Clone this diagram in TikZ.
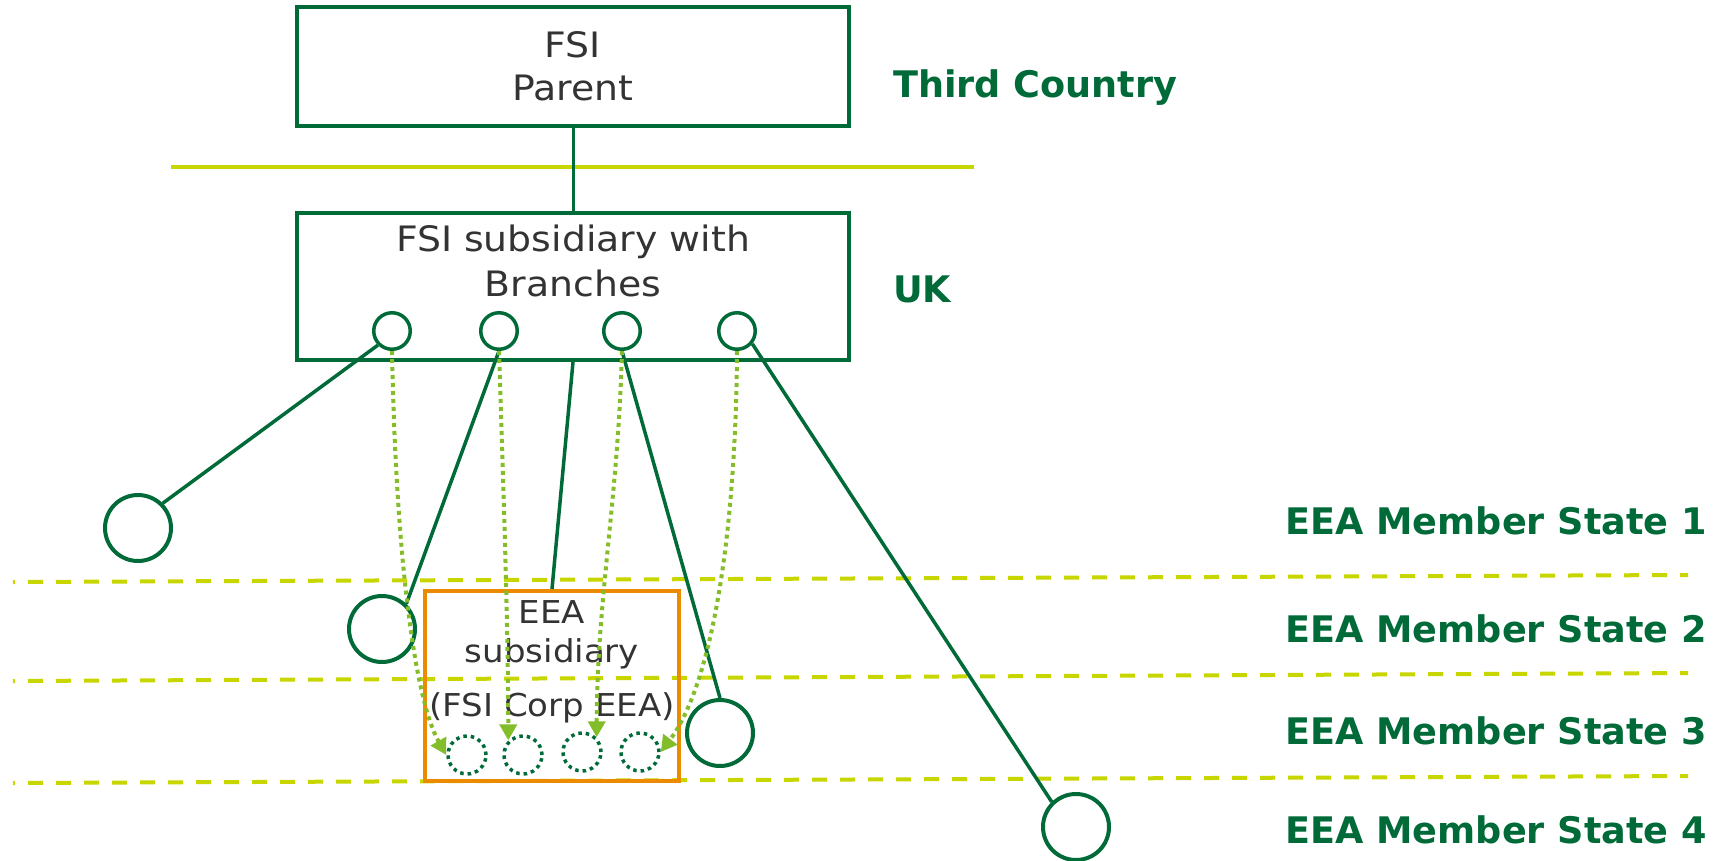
\documentclass[tikz,border=0pt]{standalone}
\usepackage{fontspec}
\setmainfont{DejaVu Sans}
\newfontfamily\boxfont[FakeStretch=1.08]{DejaVu Sans}
\usetikzlibrary{arrows.meta}
\definecolor{fsigreen}{RGB}{0,106,56}
\definecolor{fsilime}{RGB}{200,214,0}
\definecolor{fsileaf}{RGB}{132,189,42}
\definecolor{fsiorange}{RGB}{237,139,0}
\definecolor{fsitext}{RGB}{51,51,51}

\begin{document}
\begin{tikzpicture}[
		x=1pt, y=-1pt,
		entity/.style={draw=fsigreen, line width=4pt, rectangle, minimum width=552pt, inner sep=0},
		branch/.style={circle, draw=fsigreen, line width=3.5pt, minimum size=36.5pt, inner sep=0},
		office/.style={circle, draw=fsigreen, line width=4pt, minimum size=66pt, inner sep=0},
		passport/.style={circle, draw=fsigreen, line width=3.5pt, dash pattern=on 3.5pt off 4pt, minimum size=38pt, inner sep=0},
		link/.style={draw=fsigreen, line width=3.5pt},
		border/.style={draw=fsilime, line width=4pt, dash pattern=on 15pt off 13pt, dash phase=13pt},
		move/.style={draw=fsileaf, line width=4pt, dash pattern=on 4pt off 4pt, -{Triangle[length=16pt,width=17pt]}},
		region/.style={text=fsigreen, font=\fontsize{36.6}{40}\selectfont\bfseries, inner sep=0},
		boxtext/.style={text=fsitext, align=center, inner sep=0},
	]
	\useasboundingbox (0,0) rectangle (1724,860);

	% jurisdictions
	\draw[draw=fsilime, line width=4pt] (171,167) -- (974,167);
	\draw[border] (13,582) -- (1688,575);
	\draw[border] (13,681) -- (1688,673);
	\draw[border] (13,783) -- (1688,776);

	\node[entity, minimum height=119pt, boxtext, font=\boxfont\fontsize{35}{43}\selectfont] (parent) at (573,66.5) {FSI\\Parent};
	\node[entity, minimum height=147pt] (sub) at (573,286.5) {};
	\node[boxtext, font=\boxfont\fontsize{35}{45}\selectfont] (subname) at (573,261) {FSI subsidiary with\\Branches};
	\foreach \x [count=\i] in {392,499,622,737}
		\node[branch] (loc\i) at (\x,331) {};

	\node[office] (br1) at (138,528) {};
	\node[office] (br2) at (382,629) {};
	\node[office] (br3) at (720,733) {};
	\node[office] (br4) at (1076,827) {};

	\node[draw=fsiorange, line width=4pt, minimum width=254pt, minimum height=190pt, inner sep=0] (eea) at (552,686) {};
	\node[boxtext, font=\boxfont\fontsize{31.5}{39}\selectfont] (eeaname) at (552,662) {EEA\\subsidiary\\[15pt](FSI Corp EEA)};
	\foreach \x/\y [count=\i] in {467/755,523/755,582/752,640/752}
		\node[passport] (dc\i) at (\x,\y) {};

	\draw[link, line width=3pt] (parent) -- (sub);
	\draw[link] (sub.south) -- (eea.north);
	\draw[link] (loc1.225) -- (br1.45);
	\draw[link] (loc2.south) -- (br2.46);
	\draw[link] (loc3.south) -- (br3.north);
	\draw[link] (loc4.-40) -- (br4.134);

	\draw[move] (loc1.south) .. controls (396,560) and (415,700) .. (dc1.west);
	\draw[move] (loc2.south) .. controls (506,560) and (508,650) .. (dc2.north west);
	\draw[move] (loc3.south) .. controls (618,500) and (597,600) .. (dc3.north east);
	\draw[move] (loc4.south) .. controls (736,520) and (715,680) .. (dc4.east);

	\node[region, anchor=base west] (third) at (893,97) {Third Country};
	\node[region, anchor=base west] (uk) at (893,302) {UK};
	\foreach \y [count=\i] in {534,642,744,843}
		\node[region, anchor=base east] (ms\i) at (1707,\y) {EEA Member State \i};
\end{tikzpicture}
\end{document}
